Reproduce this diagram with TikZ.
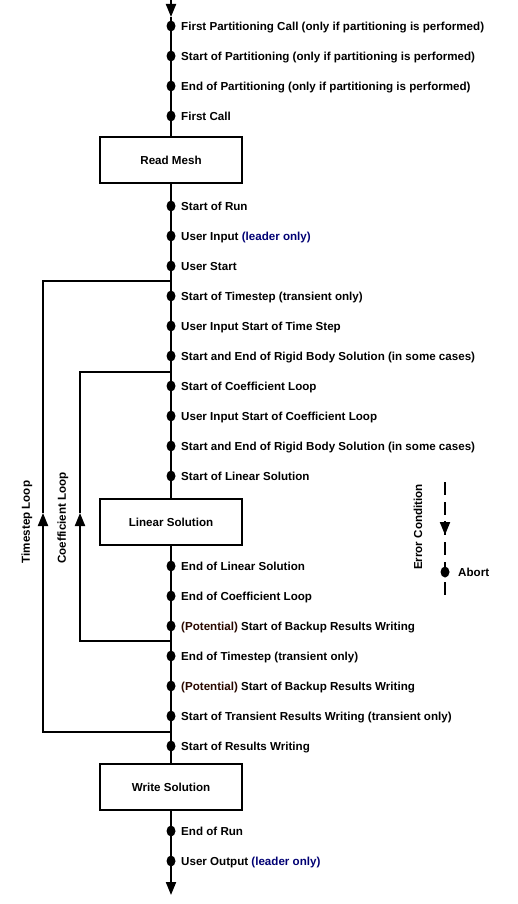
\documentclass[tikz,border=0pt]{standalone}
\usepackage{fontspec}
\setmainfont{Liberation Sans}
\usetikzlibrary{arrows.meta,shapes.geometric}
\definecolor{navy}{rgb}{0,0,0.45}
\definecolor{potcol}{rgb}{0.16,0.03,0}
\begin{document}
\begin{tikzpicture}[x=1pt,y=-1pt,
  line/.style={line width=2pt},
  dot/.style={ellipse,fill=black,draw=none,inner sep=0pt,minimum width=9pt,minimum height=11pt},
  lbl/.style={anchor=base west,font=\fontsize{11.6}{13}\selectfont\bfseries,inner sep=0pt},
  box/.style={draw,line width=2pt,minimum width=142pt,minimum height=46pt,inner sep=0pt,font=\fontsize{11.6}{13}\selectfont\bfseries},
  rot/.style={rotate=90,font=\fontsize{11.6}{13}\selectfont\bfseries,inner sep=0pt},
  tip/.style={-{Triangle[width=10pt,length=13pt]}}
]
\useasboundingbox (0,0) rectangle (517,904);

% boxes
\node[box] (rm) at (171,160.5) {Read Mesh};
\node[box] (ls) at (171,522) {Linear Solution};
\node[box] (ws) at (171,787) {Write Solution};

% main line
\coordinate (top) at (171,0);
\coordinate (topa) at (171,17);
\coordinate (bot) at (171,895);
\draw[line,tip] (top) -- (topa);
\draw[line] (topa) -- (rm.north);
\draw[line] (rm.south) -- (ls.north);
\draw[line] (ls.south) -- (ws.north);
\draw[line,tip] (ws.south) -- (bot);

% loops
\coordinate (ts1) at (171,281);
\coordinate (ts2) at (43,281);
\coordinate (ts3) at (43,732);
\coordinate (ts4) at (171,732);
\coordinate (tsa) at (43,513);
\draw[line,tip] (ts4) -- (ts3) -- (tsa);
\draw[line] (tsa) -- (ts2) -- (ts1);
\coordinate (cl1) at (171,372);
\coordinate (cl2) at (80,372);
\coordinate (cl3) at (80,641);
\coordinate (cl4) at (171,641);
\coordinate (cla) at (80,513);
\draw[line,tip] (cl4) -- (cl3) -- (cla);
\draw[line] (cla) -- (cl2) -- (cl1);
\node[rot] (tl) at (27,522) {Timestep Loop};
\node[rot] (clt) at (63,518) {Coefficient Loop};

% event points
\node[dot] (d1) at (171,26) {};  \node[lbl] at (181,30.2) {First Partitioning Call (only if partitioning is performed)};
\node[dot] (d2) at (171,56) {};  \node[lbl] at (181,60.2) {Start of Partitioning (only if partitioning is performed)};
\node[dot] (d3) at (171,86) {};  \node[lbl] at (181,90.2) {End of Partitioning (only if partitioning is performed)};
\node[dot] (d4) at (171,116) {}; \node[lbl] at (181,120.2) {First Call};
\node[dot] (d5) at (171,206) {}; \node[lbl] at (181,210.2) {Start of Run};
\node[dot] (d6) at (171,236) {}; \node[lbl] at (181,240.2) {User Input \textcolor{navy}{(leader only)}};
\node[dot] (d7) at (171,266) {}; \node[lbl] at (181,270.2) {User Start};
\node[dot] (d8) at (171,296) {}; \node[lbl] at (181,300.2) {Start of Timestep (transient only)};
\node[dot] (d9) at (171,326) {}; \node[lbl] at (181,330.2) {User Input Start of Time Step};
\node[dot] (d10) at (171,356) {}; \node[lbl] at (181,360.2) {Start and End of Rigid Body Solution (in some cases)};
\node[dot] (d11) at (171,386) {}; \node[lbl] at (181,390.2) {Start of Coefficient Loop};
\node[dot] (d12) at (171,416) {}; \node[lbl] at (181,420.2) {User Input Start of Coefficient Loop};
\node[dot] (d13) at (171,446) {}; \node[lbl] at (181,450.2) {Start and End of Rigid Body Solution (in some cases)};
\node[dot] (d14) at (171,476) {}; \node[lbl] at (181,480.2) {Start of Linear Solution};
\node[dot] (d15) at (171,566) {}; \node[lbl] at (181,570.2) {End of Linear Solution};
\node[dot] (d16) at (171,596) {}; \node[lbl] at (181,600.2) {End of Coefficient Loop};
\node[dot] (d17) at (171,626) {}; \node[lbl] at (181,630.2) {\textcolor{potcol}{(Potential)} Start of Backup Results Writing};
\node[dot] (d18) at (171,656) {}; \node[lbl] at (181,660.2) {End of Timestep (transient only)};
\node[dot] (d19) at (171,686) {}; \node[lbl] at (181,690.2) {\textcolor{potcol}{(Potential)} Start of Backup Results Writing};
\node[dot] (d20) at (171,716) {}; \node[lbl] at (181,720.2) {Start of Transient Results Writing (transient only)};
\node[dot] (d21) at (171,746) {}; \node[lbl] at (181,750.2) {Start of Results Writing};
\node[dot] (d22) at (171,831) {}; \node[lbl] at (181,835.2) {End of Run};
\node[dot] (d23) at (171,861) {}; \node[lbl] at (181,865.2) {User Output \textcolor{navy}{(leader only)}};

% error condition legend
\coordinate (e1) at (445,482);
\coordinate (e2) at (445,602);
\coordinate (ea1) at (445,521);
\coordinate (ea2) at (445,535);
\draw[line,dash pattern=on 13pt off 7pt] (e1) -- (e2);
\draw[line,tip] (ea1) -- (ea2);
\node[dot] (ab) at (445,572) {};
\node[lbl] at (458,576.2) {Abort};
\node[rot] (ec) at (418,527) {Error Condition};
\end{tikzpicture}
\end{document}
